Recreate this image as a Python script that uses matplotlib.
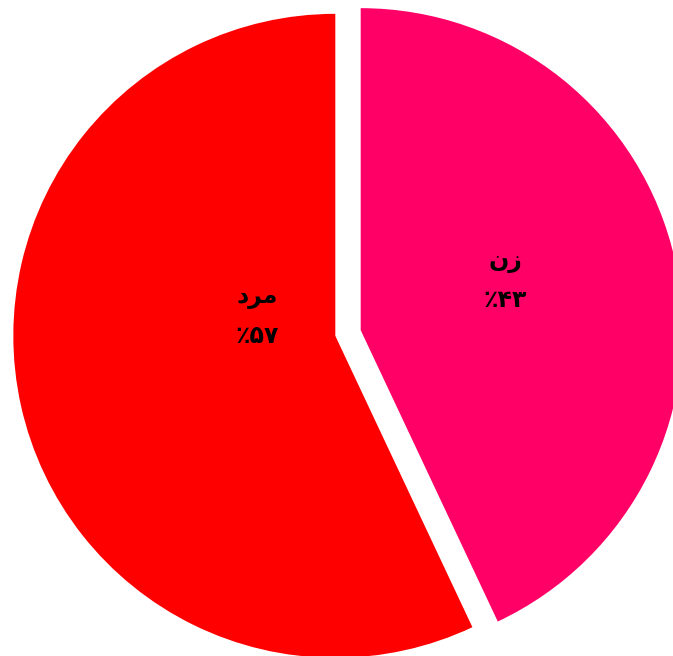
import matplotlib
matplotlib.use('Agg')
from matplotlib import pyplot as plt

# سهم زن و مرد (درصد)
labels = ['زن', 'مرد']
values = [43, 57]
colors = ['#FF0066', '#FF0000']

# matplotlib متن عربی/فارسی را شکل‌دهی نمی‌کند؛ شکل‌های نمایشی به ترتیب دیداری
shaped = {'زن': '\uFEE5\uFEAF', 'مرد': '\uFEA9\uFEAE\uFEE3'}
fa_digits = str.maketrans('0123456789', '۰۱۲۳۴۵۶۷۸۹')

fig = plt.figure(figsize=(6.73, 6.56), dpi=100)
ax = fig.add_axes([0, 0, 1, 1])

# واحد محورها = پیکسل؛ explode هم به همان واحد است
wedges, _ = ax.pie(values, colors=colors, startangle=90, counterclock=False,
                   explode=[13, 13], radius=322, center=(348, 323),
                   wedgeprops=dict(linewidth=0))
ax.set_xlim(0, 673)
ax.set_ylim(0, 656)
ax.set_aspect('equal')
ax.axis('off')

# جای برچسب‌ها
label_pos = [(505, 376), (257, 340)]
for name, v, (x, y) in zip(labels, values, label_pos):
    ax.text(x, y + 19, shaped[name], ha='center', va='center', fontsize=17,
            fontweight='bold', family=['DejaVu Sans'])
    ax.text(x, y - 20, '٪' + str(v).translate(fa_digits), ha='center', va='center',
            fontsize=17, fontweight='bold', family=['DejaVu Sans'])

plt.savefig('out.png', dpi=100)
